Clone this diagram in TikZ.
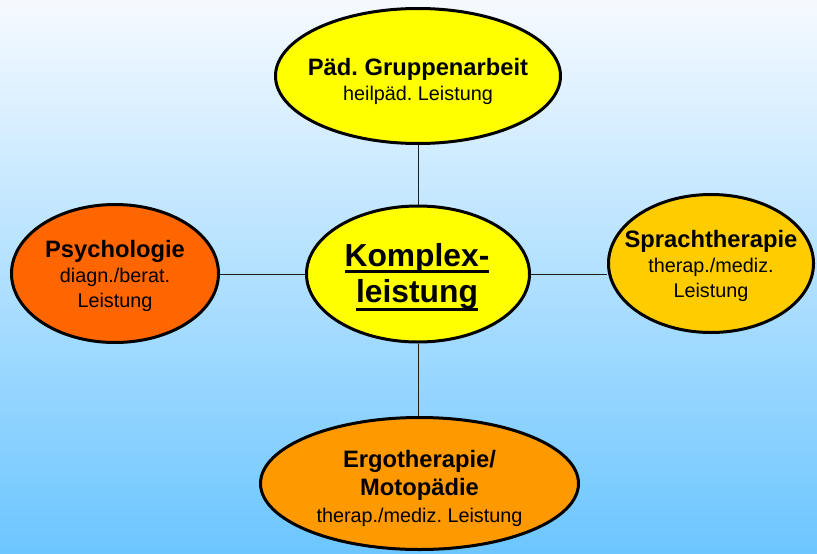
\documentclass[tikz,border=0pt]{standalone}
\usepackage{fontspec}
\setmainfont{Liberation Sans}
\usetikzlibrary{shapes.geometric}
\frenchspacing
\newsavebox{\kxbox}
% thick underline: #1 = gap below baseline, #2 = text
\newcommand{\kxul}[2]{\sbox{\kxbox}{#2}\leavevmode\rlap{\rule[\dimexpr-#1-2.5pt\relax]{\wd\kxbox}{2.5pt}}\usebox{\kxbox}}

\begin{document}
\begin{tikzpicture}[x=0.75pt,y=0.75pt,yscale=-1,xscale=1,
  bubble/.style={ellipse, draw=black, line width=2.25pt, inner sep=0pt},
  bubbletext/.style={align=center, inner sep=0pt, text=black},
  link/.style={draw={rgb, 255:red, 30; green, 30; blue, 30}, line width=0.75pt}]
%background
\useasboundingbox (0,0) rectangle (817,553);
\shade [top color={rgb, 255:red, 246; green, 250; blue, 255}, bottom color={rgb, 255:red, 108; green, 198; blue, 255}] (0,0) rectangle (817,553);

%Shape: Ellipse
\node [bubble, fill={rgb, 255:red, 255; green, 255; blue, 0}, minimum width=167.25pt, minimum height=102pt] (komplex) at (418,274) {};
%Shape: Ellipse
\node [bubble, fill={rgb, 255:red, 255; green, 255; blue, 0}, minimum width=213.75pt, minimum height=101.25pt] (paed) at (418,76) {};
%Shape: Ellipse
\node [bubble, fill={rgb, 255:red, 255; green, 102; blue, 0}, minimum width=155.25pt, minimum height=103.5pt] (psych) at (115,273.5) {};
%Shape: Ellipse
\node [bubble, fill={rgb, 255:red, 255; green, 204; blue, 0}, minimum width=153.75pt, minimum height=103.5pt] (sprach) at (711,263.5) {};
%Shape: Ellipse
\node [bubble, fill={rgb, 255:red, 255; green, 153; blue, 0}, minimum width=238.5pt, minimum height=99pt] (ergo) at (419.5,483.5) {};

%Straight Lines
\draw [link] (komplex.north) -- (komplex.north |- paed.south) ;
%Straight Lines
\draw [link] (komplex.south) -- (komplex.south |- ergo.north) ;
%Straight Lines
\draw [link] (komplex.west) -- (komplex.west -| psych.east) ;
%Straight Lines
\draw [link] (komplex.east) -- (komplex.east -| sprach.west) ;

% Text Node
\node [bubbletext, font=\fontsize{23.85}{27}\selectfont\bfseries] (komplextext) at (417,277.3) {\kxul{2.5pt}{Komplex-}\\\kxul{4.2pt}{leistung}};
% Text Node
\node [bubbletext, font=\fontsize{14.85}{18.75}\selectfont] (paedtext) at (418,81) {{\fontsize{17.8}{18.75}\selectfont\bfseries Päd. Gruppenarbeit}\\heilpäd. Leistung};
% Text Node
\node [bubbletext, font=\fontsize{14.85}{18.75}\selectfont] (psychtext) at (115,276) {{\fontsize{17.8}{18.75}\selectfont\bfseries Psychologie}\\diagn./berat.\\Leistung};
% Text Node
\node [bubbletext, font=\fontsize{14.85}{18.75}\selectfont] (sprachtext) at (711,266) {{\fontsize{17.8}{18.75}\selectfont\bfseries Sprachtherapie}\\therap./mediz.\\Leistung};
% Text Node
\node [bubbletext, font=\fontsize{14.85}{20.25}\selectfont] (ergotext) at (419.5,488) {{\fontsize{17.8}{20.25}\selectfont\bfseries Ergotherapie/}\\[0.75pt]{\fontsize{17.8}{20.25}\selectfont\bfseries Motopädie}\\therap./mediz. Leistung};

\end{tikzpicture}
\end{document}
